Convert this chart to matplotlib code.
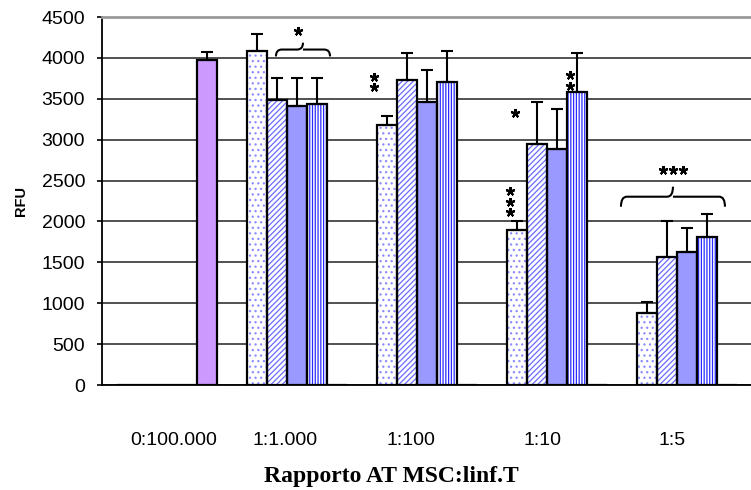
import matplotlib
matplotlib.use("Agg")
import matplotlib.pyplot as plt
import matplotlib.transforms as mtransforms
from matplotlib.path import Path
from matplotlib.patches import PathPatch
import numpy as np

# data
categories = ["0:100.000", "1:1.000", "1:100", "1:10", "1:5"]

dotted = [0, 4090, 3185, 1900, 880]
dotted_err = [0, 200, 100, 100, 135]
wavy = [0, 3490, 3725, 2950, 1560]
wavy_err = [0, 260, 340, 510, 440]
solid = [0, 3410, 3460, 2890, 1625]
solid_err = [0, 340, 390, 490, 295]
vertical = [0, 3435, 3700, 3580, 1805]
vertical_err = [0, 315, 390, 480, 290]
control = [3970, 0, 0, 0, 0]
control_err = [100, 0, 0, 0, 0]

# significance marks: (x in category units, y, number of stars, horizontal?)
stars = [
    (1.008, 4330, 1, True),
    (1.592, 3705, 2, False),
    (2.638, 2242, 3, False),
    (2.677, 3332, 1, True),
    (3.10, 3720, 2, False),
    (3.892, 2634, 3, True),
]
# braces: (x start, x end, y of ends, height)
braces = [
    (0.838, 1.254, 4018, 168),
    (3.492, 4.292, 2180, 245),
]
# small horizontal shifts of the category labels (pixels)
label_shift = [7, -12, -16, -15, -15]

plt.rcParams['hatch.linewidth'] = 0.9

fig = plt.figure(figsize=(7.51, 4.90), dpi=100)
ax = fig.add_axes([102 / 751, 1 - 385 / 490, 650 / 751, 368 / 490])

x = np.arange(len(categories))
w = 20 / 130

series = [
    (dotted, dotted_err, "white", "...", "#8c8cff"),
    (wavy, wavy_err, "white", "//////", "#6b6bff"),
    (solid, solid_err, "#9999ff", None, None),
    (vertical, vertical_err, "white", "||||||", "#2b2bff"),
    (control, control_err, "#cc99ff", None, None),
]

for j, (vals, err, fc, hatch, hc) in enumerate(series):
    pos = x + (j - 2) * w
    if hatch:
        ax.bar(pos, vals, w, color=fc, edgecolor=hc, hatch=hatch, linewidth=0, zorder=2)
    else:
        ax.bar(pos, vals, w, color=fc, linewidth=0, zorder=2)
    ax.bar(pos, vals, w, fill=False, edgecolor="black", linewidth=1.6, zorder=3)
    vals = np.array(vals)
    err = np.array(err)
    m = err > 0
    ax.errorbar(pos[m], vals[m], yerr=[np.zeros(m.sum()), err[m]], fmt="none",
                ecolor="black", elinewidth=1.5, capsize=4.5, capthick=1.5, zorder=4)

# stars
for sx, sy, n, horiz in stars:
    for k in range(n):
        if horiz:
            px, py = sx + (k - (n - 1) / 2) * 0.078, sy
        else:
            px, py = sx, sy + ((n - 1) / 2 - k) * 130
        ax.plot(px, py, marker=(5, 2, 0), ms=6.5, mew=1.5, color="black",
                linestyle="none", zorder=5, clip_on=False)


def brace(ax, x0, x1, y, h):
    xm = (x0 + x1) / 2
    r = 0.045
    yf = y + h * 0.5
    verts = [(x0, y), (x0, yf), (x0 + r, yf),
             (xm - r, yf), (xm, yf), (xm, y + h),
             (xm, yf), (xm + r, yf),
             (x1 - r, yf), (x1, yf), (x1, y)]
    codes = [Path.MOVETO, Path.CURVE3, Path.CURVE3,
             Path.LINETO, Path.CURVE3, Path.CURVE3,
             Path.MOVETO, Path.LINETO,
             Path.LINETO, Path.CURVE3, Path.CURVE3]
    ax.add_patch(PathPatch(Path(verts, codes), fill=False, lw=1.5,
                           edgecolor="black", zorder=5))


for b in braces:
    brace(ax, *b)

ax.set_xlim(-0.5, 4.5)
ax.set_ylim(0, 4500)
ax.set_yticks(np.arange(0, 4501, 500))
ax.yaxis.grid(True, color="#222222", linewidth=1.1, zorder=0)
ax.set_axisbelow(True)
ax.set_xticks(x)
ax.set_xticklabels(categories, fontsize=14, family="Liberation Sans")
ax.tick_params(axis="x", length=0, pad=34)
for lab, dx in zip(ax.get_xticklabels(), label_shift):
    lab.set_transform(lab.get_transform() +
                      mtransforms.ScaledTranslation(dx / 100, 0, fig.dpi_scale_trans))
ax.tick_params(axis="y", direction="out", length=3.6, width=1.2, labelsize=14, pad=8.6)
for lab in ax.get_yticklabels():
    lab.set_family("Liberation Sans")
ax.spines["right"].set_visible(False)
ax.spines["top"].set_color("#999999")
ax.spines["top"].set_linewidth(2)
ax.spines["left"].set_linewidth(1.3)
ax.spines["bottom"].set_linewidth(1.3)

ax.set_ylabel("RFU", fontsize=10.5, fontweight="bold", family="Liberation Sans", labelpad=10)
ax.set_xlabel("Rapporto AT MSC:linf.T", fontsize=17, fontweight="bold",
              family="Liberation Serif")
ax.xaxis.set_label_coords((391 - 102) / 650, (385 - 476) / 368)
ax.xaxis.label.set_va("center")

fig.savefig("out.png", dpi=100)
